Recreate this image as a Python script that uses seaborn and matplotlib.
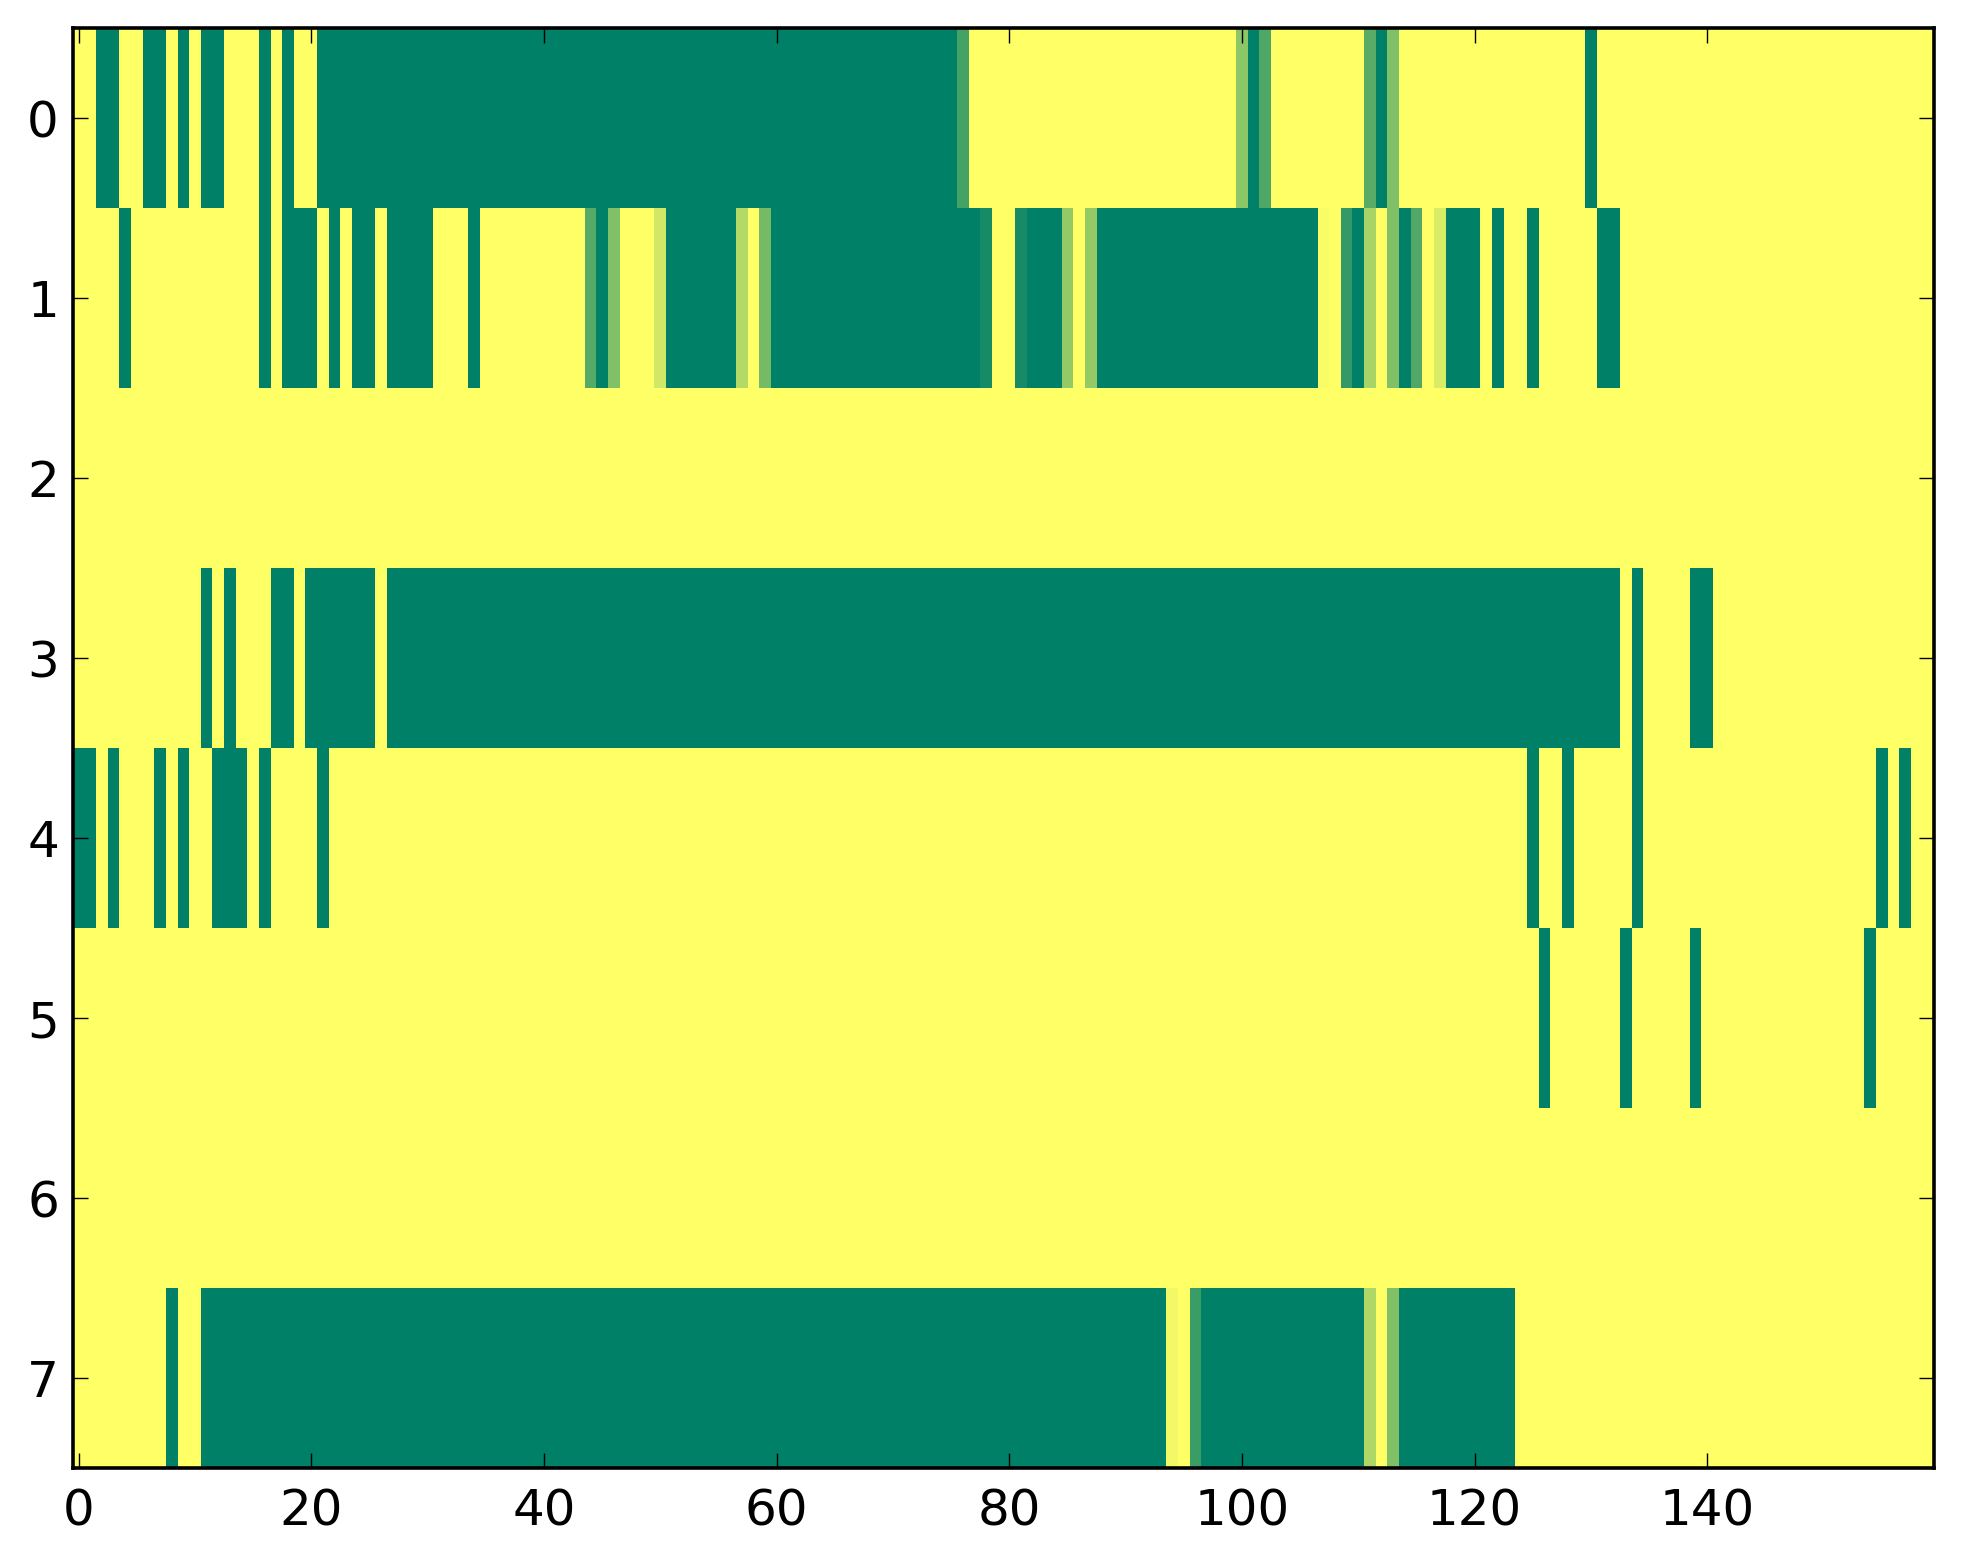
import numpy as np
import pandas as pd
import matplotlib
matplotlib.use("Agg")
import matplotlib.pyplot as plt
import seaborn as sns

N_COLS = 160
row_labels = [0, 1, 2, 3, 4, 5, 6, 7]
x_tick_values = [0, 20, 40, 60, 80, 100, 120, 140]

# Non-yellow cells per row: (first column, last column, value); all other cells = 1
row0 = [(2, 3, 0), (6, 7, 0), (9, 9, 0), (11, 12, 0), (16, 16, 0), (18, 18, 0),
        (21, 75, 0), (76, 76, 0.27), (100, 100, 0.55), (101, 101, 0), (102, 102, 0.31),
        (111, 111, 0.35), (112, 112, 0), (113, 113, 0.5), (130, 130, 0)]
row1 = [(4, 4, 0), (16, 16, 0), (18, 20, 0), (22, 22, 0), (24, 25, 0), (27, 30, 0),
        (34, 34, 0), (44, 44, 0.33), (45, 45, 0), (46, 46, 0.5), (50, 50, 0.82),
        (51, 56, 0), (57, 57, 0.7), (59, 59, 0.46), (60, 77, 0), (78, 78, 0.09),
        (81, 81, 0.09), (82, 84, 0), (85, 85, 0.58), (87, 87, 0.58), (88, 106, 0),
        (107, 107, 0.97), (109, 109, 0.2), (110, 110, 0), (111, 111, 0.66),
        (113, 113, 0.5), (114, 114, 0), (115, 115, 0.32), (117, 117, 0.85),
        (118, 120, 0), (122, 122, 0), (125, 125, 0), (131, 132, 0)]
row2 = []
row3 = [(11, 11, 0), (13, 13, 0), (17, 18, 0), (20, 25, 0), (27, 132, 0),
        (134, 134, 0), (139, 140, 0)]
row4 = [(0, 1, 0), (3, 3, 0), (7, 7, 0), (9, 9, 0), (12, 14, 0), (16, 16, 0),
        (21, 21, 0), (125, 125, 0), (128, 128, 0), (134, 134, 0), (155, 155, 0),
        (157, 157, 0)]
row5 = [(126, 126, 0), (133, 133, 0), (139, 139, 0), (154, 154, 0)]
row6 = []
row7 = [(8, 8, 0), (11, 93, 0), (94, 94, 0.95), (96, 96, 0.23), (97, 110, 0),
        (111, 111, 0.68), (113, 113, 0.5), (114, 123, 0)]

rows = [row0, row1, row2, row3, row4, row5, row6, row7]
data = np.ones((len(rows), N_COLS))
for r, runs in enumerate(rows):
    for a, b, v in runs:
        data[r, a:b + 1] = v
df = pd.DataFrame(data, index=row_labels)

DPI = 100
fig = plt.figure(figsize=(1963 / DPI, 1564 / DPI), dpi=DPI)
ax = fig.add_axes([0.0371, 0.0614, 0.9482, 0.9206])

sns.heatmap(df, cmap="summer", vmin=0, vmax=1, cbar=False, ax=ax,
            xticklabels=False, yticklabels=False)

for s in ax.spines.values():
    s.set_visible(True)
    s.set_linewidth(2.6)
    s.set_color("black")

ax.set_xticks([v + 0.5 for v in x_tick_values])
ax.set_xticklabels([str(v) for v in x_tick_values], rotation=0)
ax.set_yticks([v + 0.5 for v in row_labels])
ax.set_yticklabels([str(v) for v in row_labels], rotation=0)
ax.tick_params(axis="both", which="both", direction="in", top=True, right=True,
               length=11, width=1.0, labelsize=36, color="black",
               labelcolor="black")
ax.tick_params(axis="x", pad=14)
ax.tick_params(axis="y", pad=10)
ax.set_xlabel("")
ax.set_ylabel("")

fig.savefig("out.png", dpi=DPI)
